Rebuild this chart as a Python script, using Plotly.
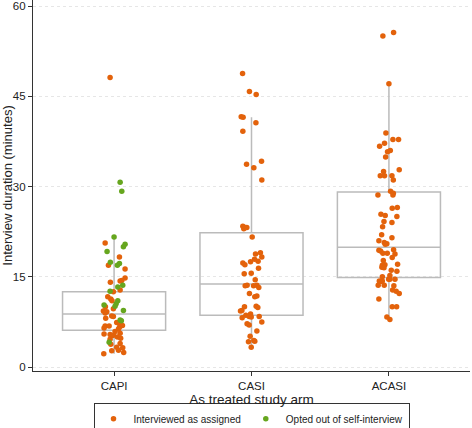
import plotly.graph_objects as go

# ---------------- data ----------------
arms = ["CAPI", "CASI", "ACASI"]
y_ticks = [0, 15, 30, 45, 60]

# box statistics per arm
box_q1 = [6.1, 8.6, 14.9]
box_median = [8.8, 13.8, 19.9]
box_q3 = [12.5, 22.3, 29.1]
box_lower = [2.2, 3.3, 7.9]
box_upper = [21.6, 41.5, 47.1]

# CAPI - interviewed as assigned (minutes, horizontal jitter in arm units)
capi_assigned = [48.1, 20.6, 16.9, 18.3, 16.3, 14.8, 14.1, 14.3, 14.4, 12.8, 12.5, 11.7, 11.3,
                 11.0, 10.0, 9.7, 9.3, 9.2, 9.0, 8.5, 8.4, 8.1, 7.4, 7.1, 6.9, 6.8, 6.8, 6.6,
                 6.5, 6.3, 5.9, 5.5, 5.4, 5.2, 5.3, 5.6, 5.0, 4.6, 4.8, 3.8, 3.9, 3.3, 3.2,
                 2.8, 2.7, 2.4, 2.2]
capi_assigned_jit = [-0.029, -0.065, -0.041, 0.039, 0.080, 0.080, -0.027, 0.044, 0.056, 0.044,
                     -0.005, -0.046, -0.024, -0.015, -0.063, -0.005, -0.078, -0.053, -0.065,
                     -0.017, -0.005, -0.061, 0.019, 0.044, 0.061, -0.065, -0.036, 0.039,
                     -0.073, 0.032, 0.007, -0.073, -0.029, -0.017, -0.005, 0.044, 0.024,
                     -0.029, 0.048, -0.024, 0.044, 0.019, 0.063, 0.032, -0.017, 0.070, -0.075]

# CAPI - opted out of self-interview
capi_optout = [30.7, 29.2, 21.6, 20.4, 20.0, 19.2, 17.4, 17.2, 16.9, 13.6, 13.3, 12.6, 11.0,
               10.5, 10.3, 10.1, 9.4, 7.8, 7.7, 4.1]
capi_optout_jit = [0.044, 0.056, 0.000, 0.080, 0.068, -0.051, -0.027, 0.039, 0.024, 0.063,
                   0.027, -0.029, 0.027, 0.015, -0.073, 0.007, 0.068, 0.044, 0.053, -0.036]

# CASI - interviewed as assigned
casi_assigned = [48.8, 45.8, 45.3, 41.6, 41.5, 40.6, 39.2, 34.2, 33.7, 33.1, 31.1, 23.4, 23.2,
                 23.0, 23.2, 21.6, 18.8, 19.0, 18.3, 17.9, 17.6, 17.5, 17.3, 17.0, 16.4, 15.6,
                 15.5, 14.5, 13.6, 13.5, 13.5, 13.6, 13.2, 12.2, 11.7, 11.8, 10.0, 10.1, 9.9,
                 9.4, 9.3, 8.8, 8.6, 8.4, 8.2, 8.4, 8.3, 7.5, 7.2, 7.0, 6.0, 5.1, 4.4, 4.3,
                 4.2, 3.3]
casi_assigned_jit = [-0.065, -0.015, 0.034, -0.075, -0.061, 0.032, -0.063, 0.073, -0.036, 0.017,
                     0.075, -0.063, -0.046, -0.056, -0.034, 0.005, 0.029, 0.065, 0.075, 0.022,
                     0.048, -0.007, -0.063, -0.048, 0.051, -0.002, -0.053, 0.027, -0.032,
                     -0.046, 0.015, 0.039, 0.053, -0.015, 0.024, 0.039, -0.051, 0.034, 0.046,
                     -0.070, -0.080, -0.007, -0.041, -0.017, -0.068, 0.056, -0.002, 0.075,
                     -0.032, -0.017, 0.039, -0.010, 0.017, 0.024, -0.022, -0.002]

# ACASI - interviewed as assigned
acasi_assigned = [55.6, 55.0, 47.1, 38.9, 37.8, 37.8, 37.2, 36.7, 36.0, 35.8, 34.9, 32.8, 32.5,
                  31.8, 31.8, 31.8, 31.1, 29.2, 28.9, 28.6, 28.6, 26.4, 26.5, 25.4, 25.2, 25.0,
                  24.2, 24.0, 23.3, 22.0, 21.5, 21.0, 20.7, 20.5, 20.4, 19.4, 19.3, 19.5, 18.9,
                  18.9, 18.8, 18.2, 17.7, 17.1, 17.0, 16.9, 16.6, 16.5, 16.1, 15.9, 15.2, 15.0,
                  14.6, 14.6, 14.6, 14.3, 14.2, 14.3, 13.6, 13.6, 13.5, 12.8, 12.6, 12.2, 11.3,
                  10.0, 10.0, 8.3, 7.9]
acasi_assigned_jit = [0.034, -0.044, 0.000, -0.022, 0.029, 0.070, -0.032, -0.068, 0.010, -0.010,
                      -0.024, 0.075, -0.039, -0.063, -0.032, 0.022, 0.032, 0.012, 0.032, 0.029,
                      -0.080, 0.024, 0.061, -0.058, -0.027, 0.058, -0.036, 0.022, -0.046, -0.053,
                      0.022, -0.073, -0.034, -0.015, -0.027, -0.073, -0.061, 0.034, -0.044,
                      -0.012, 0.044, 0.024, -0.041, 0.063, -0.029, -0.048, -0.051, -0.036,
                      0.017, 0.058, 0.007, -0.048, -0.002, 0.007, 0.044, -0.070, -0.058, -0.048,
                      -0.078, -0.034, 0.036, 0.027, 0.053, 0.075, -0.073, 0.024, 0.056, -0.015,
                      0.007]

ORANGE = "#E3620B"
GREEN = "#66A61E"
BOX_LINE = "#BBBBBB"

fig = go.Figure()

# boxes
fig.add_trace(go.Box(
    x=[0, 1, 2], q1=box_q1, median=box_median, q3=box_q3,
    lowerfence=box_lower, upperfence=box_upper,
    width=0.75, boxpoints=False, fillcolor="rgba(255,255,255,0)",
    line=dict(color=BOX_LINE, width=1.5), whiskerwidth=0,
    showlegend=False, hoverinfo="skip"))

def add_points(idx, values, jit, color, name, show):
    fig.add_trace(go.Scatter(
        x=[idx + j for j in jit], y=values, mode="markers",
        marker=dict(color=color, size=5.5), name=name,
        legendgroup=name, showlegend=show))

add_points(0, capi_assigned, capi_assigned_jit, ORANGE, "Interviewed as assigned", True)
add_points(1, casi_assigned, casi_assigned_jit, ORANGE, "Interviewed as assigned", False)
add_points(2, acasi_assigned, acasi_assigned_jit, ORANGE, "Interviewed as assigned", False)
add_points(0, capi_optout, capi_optout_jit, GREEN, "Opted out of self-interview", True)

fig.update_layout(
    width=472, height=428,
    margin=dict(l=33, r=2, t=0, b=57, autoexpand=False),
    paper_bgcolor="white", plot_bgcolor="white",
    font=dict(family="Liberation Sans, Arial, sans-serif", size=12, color="#222"),
    xaxis=dict(
        range=[-0.59, 2.59], tickmode="array", tickvals=[0, 1, 2], ticktext=arms,
        showgrid=False, zeroline=False, showline=True, linecolor="#333", linewidth=1.2,
        ticks="outside", ticklen=4, tickcolor="#333", tickfont=dict(size=11.5),
        automargin=False,
        title=dict(text="As treated study arm", font=dict(size=13.5), standoff=0)),
    yaxis=dict(
        range=[-0.66, 61.0], tickmode="array", tickvals=y_ticks,
        showgrid=True, gridcolor="#E6E6E6", griddash="dot", gridwidth=1,
        zeroline=False, showline=True, linecolor="#333", linewidth=1.2,
        ticks="outside", ticklen=4, tickcolor="#333", tickfont=dict(size=11.5),
        automargin=False,
        title=dict(text="Interview duration (minutes)", font=dict(size=13), standoff=2)),
    legend=dict(
        orientation="h", x=0.5, xanchor="center", y=-0.087, yanchor="top",
        bordercolor="#333", borderwidth=1, font=dict(size=10), itemwidth=30,
        tracegroupgap=0, valign="middle"),
)

fig.write_html("out.html", config={"displayModeBar": False},
               post_script="document.body.style.margin='0';")
